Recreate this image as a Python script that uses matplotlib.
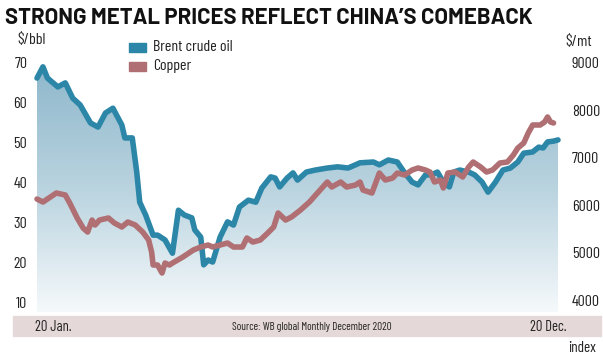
import numpy as np
import matplotlib
matplotlib.use("Agg")
import matplotlib.pyplot as plt
from matplotlib.colors import LinearSegmentedColormap
from matplotlib.patches import Rectangle

# Brent crude oil ($/bbl), day of 2020 vs price
brent_day = [0, 4, 7, 14, 19, 24, 29, 36, 41, 46, 51, 57, 59, 64, 67, 69, 73, 78,
             81, 86, 91, 95, 99, 104, 106, 110, 112, 115, 118, 123, 128, 132, 136,
             142, 147, 151, 157, 160, 163, 168, 172, 175, 181, 187, 195, 202, 209,
             217, 226, 230, 236, 242, 247, 252, 256, 261, 265, 269, 273, 277, 280,
             284, 290, 294, 299, 303, 308, 313, 318, 323, 327, 333, 337, 340, 343,
             347, 350]
brent = [66.0, 68.8, 66.0, 63.8, 64.8, 61.0, 59.3, 54.8, 53.8, 57.3, 58.5, 54.3,
         51.1, 51.1, 42.6, 35.1, 31.9, 26.9, 26.9, 25.7, 22.4, 33.1, 31.9, 31.2,
         28.2, 26.4, 19.5, 20.7, 20.2, 26.4, 30.2, 29.4, 33.9, 35.6, 35.1, 38.6,
         41.4, 41.1, 38.9, 41.1, 42.4, 40.6, 42.6, 43.1, 43.6, 43.9, 43.6, 44.9,
         45.1, 44.4, 45.6, 45.1, 42.4, 40.1, 39.4, 41.9, 41.9, 42.6, 40.1, 38.9,
         42.6, 43.1, 42.6, 41.9, 40.1, 37.6, 40.1, 43.1, 43.6, 45.1, 47.3, 47.6,
         48.8, 48.6, 50.1, 50.3, 50.6]

# Copper ($/mt), day of 2020 vs price
copper_day = [0, 4, 9, 13, 19, 22, 27, 31, 34, 37, 39, 42, 48, 52, 57, 61, 66, 71,
              75, 77, 78, 81, 84, 86, 89, 91, 98, 105, 110, 115, 118, 123, 128, 132,
              138, 141, 145, 150, 155, 159, 162, 167, 171, 177, 183, 189, 195, 198,
              204, 208, 214, 217, 219, 225, 230, 234, 239, 242, 247, 252, 256, 261,
              264, 267, 271, 273, 276, 281, 286, 290, 293, 298, 302, 306, 311, 316,
              320, 323, 327, 330, 333, 338, 341, 343, 345, 347]
copper = [6130, 6067, 6173, 6257, 6215, 6046, 5730, 5518, 5434, 5687, 5582, 5687,
          5730, 5624, 5540, 5645, 5582, 5434, 5265, 5012, 4738, 4738, 4569, 4780,
          4738, 4780, 4907, 5054, 5118, 5160, 5118, 5160, 5202, 5118, 5118, 5308,
          5223, 5265, 5413, 5540, 5835, 5687, 5751, 5898, 6067, 6278, 6489, 6384,
          6489, 6384, 6426, 6489, 6320, 6257, 6679, 6531, 6574, 6679, 6637, 6742,
          6785, 6742, 6700, 6489, 6531, 6363, 6679, 6700, 6595, 6806, 6911, 6806,
          6700, 6742, 6890, 6911, 7059, 7206, 7312, 7523, 7692, 7692, 7755, 7861,
          7755, 7734]

left_ticks = [10, 20, 30, 40, 50, 60, 70]
right_ticks = [4000, 5000, 6000, 7000, 8000, 9000]

BRENT_C = "#2b86a7"
COPPER_C = "#b06f73"
TXT = "#222222"
plt.rcParams["font.family"] = ["Barlow Condensed", "DejaVu Sans"]

W, H = 603, 359
fig = plt.figure(figsize=(W / 100, H / 100), dpi=100)
fig.patch.set_facecolor("white")

# axes box in pixels: x 37..558, y 40..312 (from top)
ax = fig.add_axes([37 / W, 1 - 312 / H, (558 - 37) / W, (312 - 40) / H])
ymin, ymax = 10 - 9 * 60 / 241, 70 + 22 * 60 / 241
ax.set_xlim(0, 350)
ax.set_ylim(ymin, ymax)

# gradient fill under brent
fill = ax.fill_between(brent_day, brent, ymin, color="none", lw=0)
cmap = LinearSegmentedColormap.from_list("g", ["#f5f9fb", "#b9d3df", "#8db7cb"])
grad = np.linspace(0, 1, 256).reshape(-1, 1)
im = ax.imshow(grad, extent=[0, 350, ymin, 70], origin="lower", aspect="auto",
               cmap=cmap, zorder=1)
im.set_clip_path(fill.get_paths()[0], transform=ax.transData)

ax.plot(brent_day, brent, color=BRENT_C, lw=4, solid_capstyle="round",
        solid_joinstyle="round", zorder=3, clip_on=False)

ax2 = ax.twinx()
ax2.set_ylim(4000 - 12 * 5000 / 237, 9000 + 23 * 5000 / 237)
ax2.plot(copper_day, copper, color=COPPER_C, lw=4, solid_capstyle="round",
         solid_joinstyle="round", zorder=4, clip_on=False)

for a in (ax, ax2):
    for s in a.spines.values():
        s.set_visible(False)
    a.set_xticks([])
ax.set_yticks(left_ticks)
ax.set_yticklabels([str(t) for t in left_ticks])
ax.tick_params(axis="y", length=0, pad=7, labelsize=11.5, labelcolor=TXT)
ax2.set_yticks(right_ticks)
ax2.set_yticklabels([str(t) for t in right_ticks])
ax2.tick_params(axis="y", length=0, pad=10, labelsize=11.5, labelcolor=TXT)

# title and units
fig.text(5 / W, 1 - 18 / H, "STRONG METAL PRICES REFLECT CHINA\u2019S COMEBACK",
         fontsize=15.9, fontweight="bold", va="center", ha="left", color="#111111",
         family=["Barlow", "DejaVu Sans"])
fig.text(17 / W, 1 - 40 / H, "$/bbl", fontsize=11.5, va="center", ha="left", color=TXT)
fig.text(565 / W, 1 - 42 / H, "$/mt", fontsize=11.5, va="center", ha="left", color=TXT)

# legend
fig.patches.append(Rectangle((129 / W, 1 - 52 / H), 17 / W, 9 / H,
                             transform=fig.transFigure, color=BRENT_C))
fig.patches.append(Rectangle((129 / W, 1 - 71 / H), 17 / W, 9 / H,
                             transform=fig.transFigure, color=COPPER_C))
fig.text(153 / W, 1 - 47 / H, "Brent crude oil", fontsize=11.5, va="center", ha="left",
         color=TXT)
fig.text(153 / W, 1 - 66 / H, "Copper", fontsize=11.5, va="center", ha="left",
         color=TXT)

# bottom band
fig.patches.append(Rectangle((13 / W, 1 - 336 / H), (601 - 13) / W, 20 / H,
                             transform=fig.transFigure, color="#e5d8d8", zorder=0))
fig.text(35 / W, 1 - 327 / H, "20 Jan.", fontsize=10.5, va="center", ha="left",
         color=TXT)
fig.text(530 / W, 1 - 327 / H, "20 Dec.", fontsize=10.5, va="center", ha="left",
         color=TXT)
fig.text(312 / W, 1 - 327 / H, "Source: WB global Monthly December 2020", fontsize=8,
         va="center", ha="center", color=TXT)
fig.text(568 / W, 1 - 348 / H, "index", fontsize=11, va="center", ha="left",
         color=TXT)

fig.savefig("out.png", dpi=100)
